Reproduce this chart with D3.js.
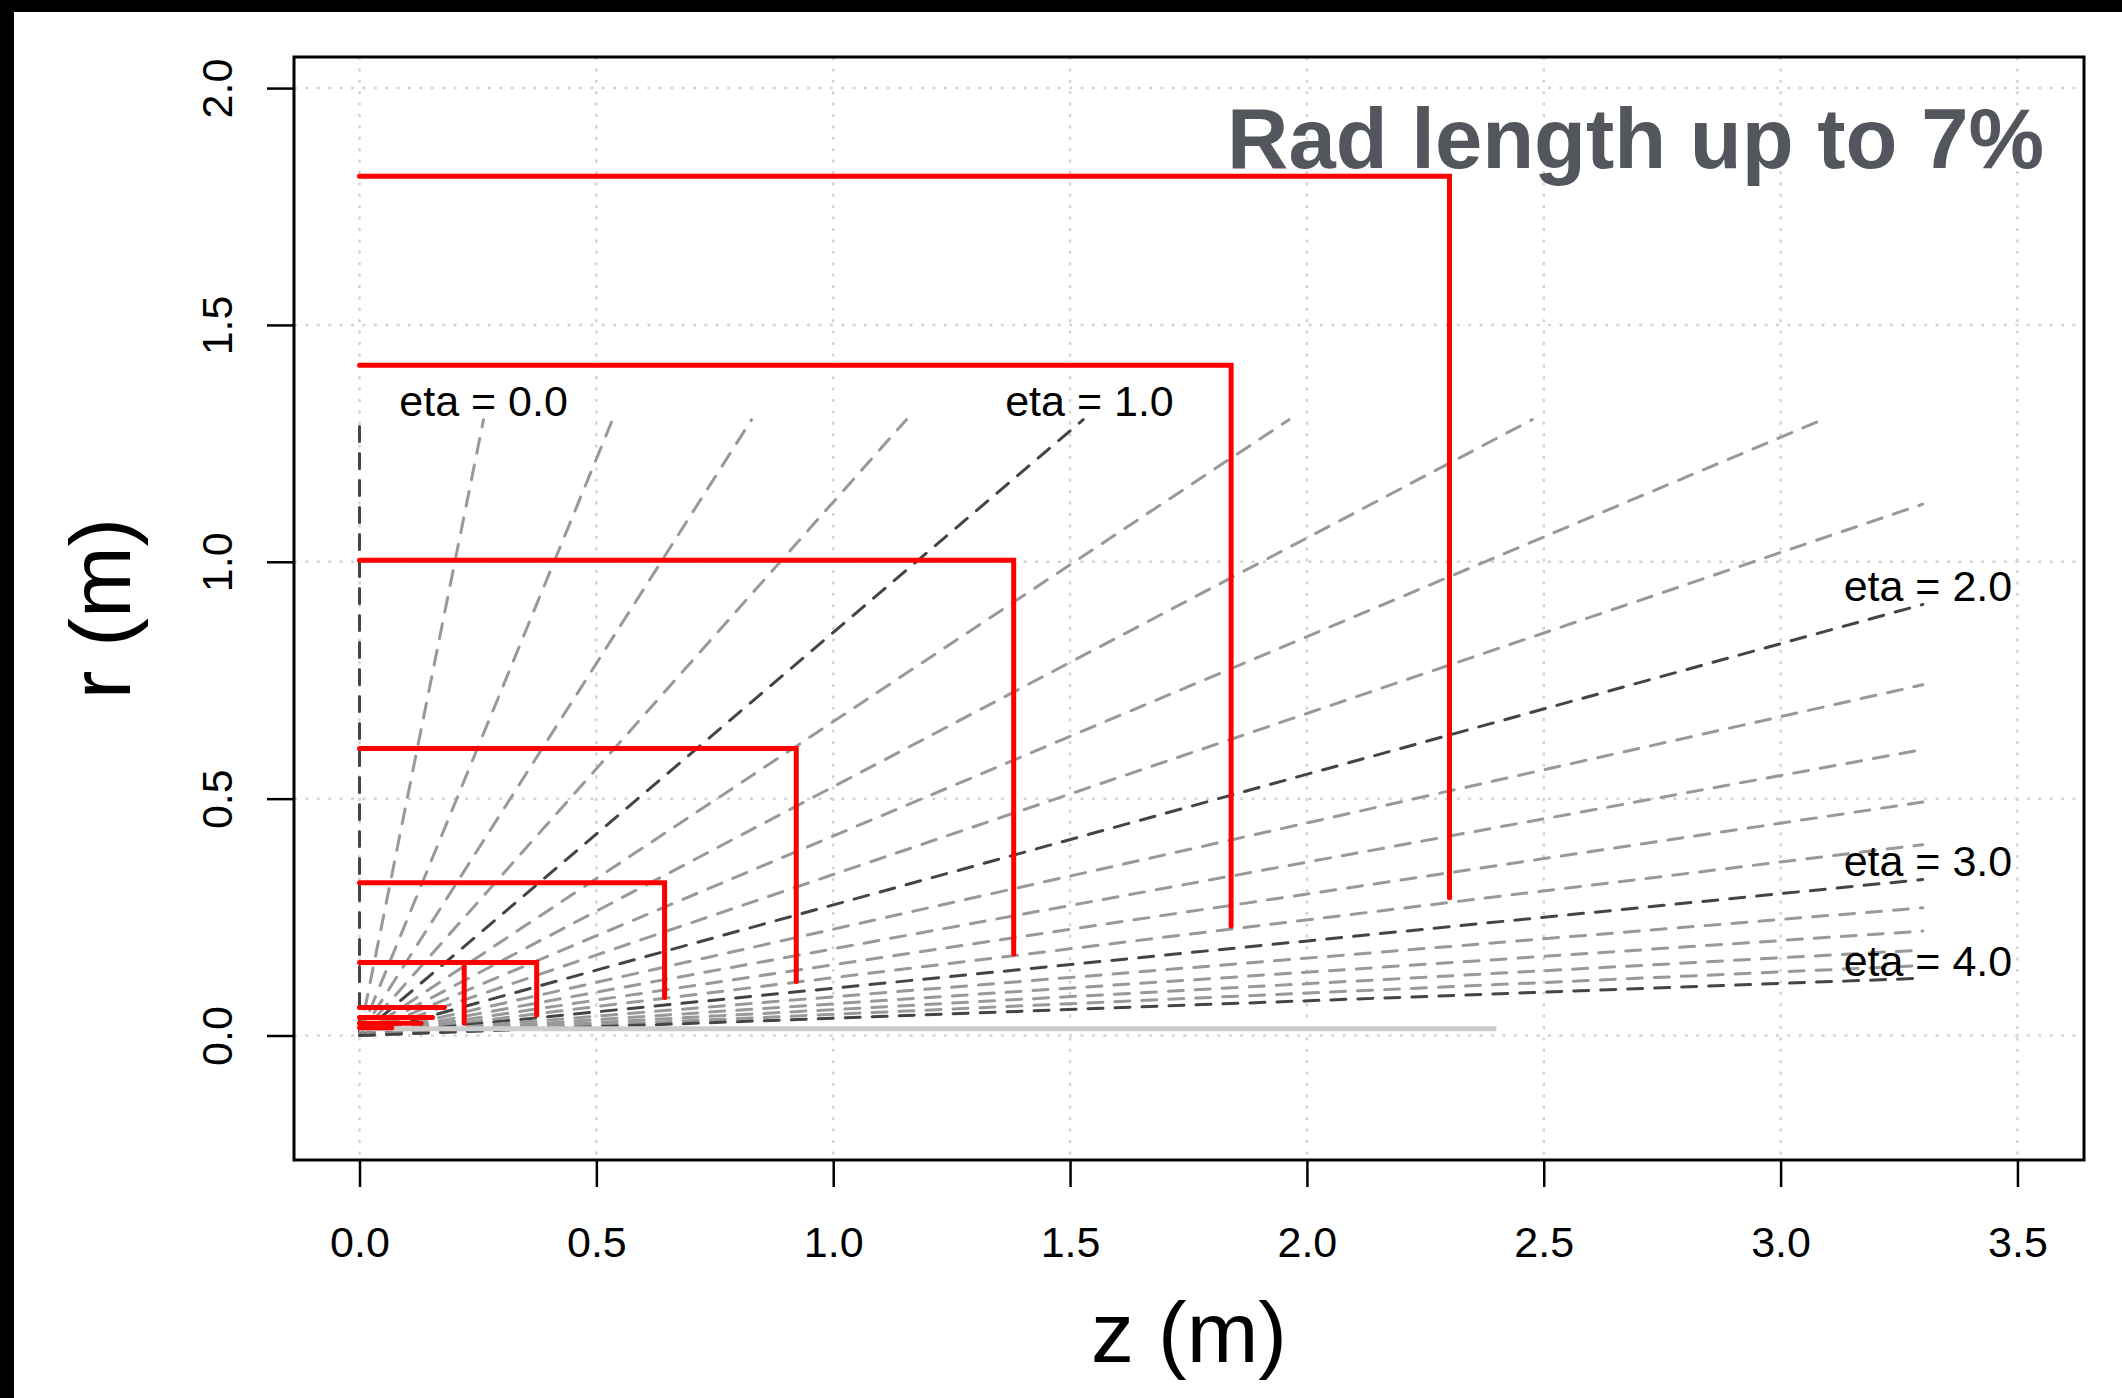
<html>
<head>
<title>Rad length up to 7%</title>
<style>
  body { margin: 0; background: #fff; }
  text { font-family: "Liberation Sans", Arial, Helvetica, sans-serif; }
</style>
</head>
<body>
<div id="viz"></div>
<script src="https://d3js.org/d3.v7.min.js"></script>
<script>

var width = 2122;
var height = 1398;

// tick values
var zTicks = [0.0, 0.5, 1.0, 1.5, 2.0, 2.5, 3.0, 3.5];
var rTicks = [0.0, 0.5, 1.0, 1.5, 2.0];

// pseudorapidity lines, drawn from the origin out to r = 1.3 or z = 3.3
var etaValues = [0.0, 0.2, 0.4, 0.6, 0.8, 1.0, 1.2, 1.4, 1.6, 1.8, 2.0,
                 2.2, 2.4, 2.6, 2.8, 3.0, 3.2, 3.4, 3.6, 3.8, 4.0];
var etaMajor = [0.0, 1.0, 2.0, 3.0, 4.0];
var etaRMax = 1.3;
var etaZMax = 3.3;

// eta labels: text, z, r (label centre)
var etaLabels = [
    ["eta = 0.0", 0.262, 1.340],
    ["eta = 1.0", 1.541, 1.340],
    ["eta = 2.0", 3.311, 0.949],
    ["eta = 3.0", 3.311, 0.369],
    ["eta = 4.0", 3.311, 0.157]
];

// barrel layers: radius, half length, inner radius of the end disk
var layerR    = [1.814, 1.415, 1.003, 0.606, 0.3226, 0.154];
var layerZ    = [2.301, 1.840, 1.381, 0.922, 0.644, 0.374];
var layerRMin = [0.291, 0.231, 0.172, 0.114, 0.080, 0.043];

// extra disk inside the innermost layer: z, r top, r bottom
var extraDisk = [0.221, 0.154, 0.026];

// short inner layers: radius, half length
var innerR = [0.059, 0.038, 0.026, 0.0165];
var innerZ = [0.179, 0.154, 0.130, 0.068];

// beam pipe: radius, length
var pipe = [0.0144, 2.40];

var svg = d3.select("#viz")
    .append("svg")
    .attr("width", width)
    .attr("height", height);

svg.append("rect").attr("width", width).attr("height", height).attr("fill", "#fff");

var pLeft = 294, pRight = 2084, pTop = 57, pBottom = 1160;

var x = d3.scaleLinear().domain([-0.1383, 3.6405]).range([pLeft, pRight]);
var y = d3.scaleLinear().domain([-0.2628, 2.0656]).range([pBottom, pTop]);

// grid
var grid = svg.append("g")
    .attr("stroke", "#d3d3d3")
    .attr("stroke-width", 2.5)
    .attr("stroke-dasharray", "3 8.4");

grid.selectAll(".gv")
    .data(zTicks)
    .enter()
    .append("line")
    .attr("x1", function (d) { return x(d); })
    .attr("x2", function (d) { return x(d); })
    .attr("y1", pTop)
    .attr("y2", pBottom);

grid.selectAll(".gh")
    .data(rTicks)
    .enter()
    .append("line")
    .attr("x1", pLeft)
    .attr("x2", pRight)
    .attr("y1", function (d) { return y(d); })
    .attr("y2", function (d) { return y(d); });

// eta lines
function etaEnd(eta) {
    if (eta === 0) return [0, etaRMax];
    var slope = 1 / Math.sinh(eta); // r / z
    var z = etaRMax / slope;
    if (z <= etaZMax) return [z, etaRMax];
    return [etaZMax, etaZMax * slope];
}

svg.append("g")
    .selectAll("line")
    .data(etaValues)
    .enter()
    .append("line")
    .attr("x1", x(0))
    .attr("y1", y(0))
    .attr("x2", function (d) { return x(etaEnd(d)[0]); })
    .attr("y2", function (d) { return y(etaEnd(d)[1]); })
    .attr("stroke", function (d) {
        return etaMajor.indexOf(d) >= 0 ? "#444444" : "#999999";
    })
    .attr("stroke-width", 3)
    .attr("stroke-dasharray", "15 12")
    .attr("stroke-linecap", "round");

svg.append("g")
    .selectAll("text")
    .data(etaLabels)
    .enter()
    .append("text")
    .attr("x", function (d) { return x(d[1]); })
    .attr("y", function (d) { return y(d[2]); })
    .attr("dy", "0.35em")
    .attr("text-anchor", "middle")
    .attr("font-size", 43)
    .attr("fill", "#000")
    .text(function (d) { return d[0]; });

// beam pipe
svg.append("line")
    .attr("x1", x(0))
    .attr("x2", x(pipe[1]))
    .attr("y1", y(pipe[0]))
    .attr("y2", y(pipe[0]))
    .attr("stroke", "#cccccc")
    .attr("stroke-width", 5);

// red layers
var red = svg.append("g")
    .attr("fill", "none")
    .attr("stroke", "#ff0000")
    .attr("stroke-width", 5)
    .attr("stroke-linecap", "round")
    .attr("stroke-linejoin", "miter");

red.selectAll(".layer")
    .data(layerR)
    .enter()
    .append("path")
    .attr("d", function (d, i) {
        return d3.line()([
            [x(0), y(d)],
            [x(layerZ[i]), y(d)],
            [x(layerZ[i]), y(layerRMin[i])]
        ]);
    });

red.append("line")
    .attr("x1", x(extraDisk[0]))
    .attr("x2", x(extraDisk[0]))
    .attr("y1", y(extraDisk[1]))
    .attr("y2", y(extraDisk[2]));

red.selectAll(".inner")
    .data(innerR)
    .enter()
    .append("line")
    .attr("x1", x(0))
    .attr("x2", function (d, i) { return x(innerZ[i]); })
    .attr("y1", function (d) { return y(d); })
    .attr("y2", function (d) { return y(d); });

// box
svg.append("rect")
    .attr("x", pLeft)
    .attr("y", pTop)
    .attr("width", pRight - pLeft)
    .attr("height", pBottom - pTop)
    .attr("fill", "none")
    .attr("stroke", "#000")
    .attr("stroke-width", 3);

// axes
var xAxis = svg.append("g")
    .attr("transform", "translate(0," + pBottom + ")")
    .call(d3.axisBottom(x).tickValues(zTicks).tickSize(27).tickFormat(d3.format(".1f")));

var yAxis = svg.append("g")
    .attr("transform", "translate(" + pLeft + ",0)")
    .call(d3.axisLeft(y).tickValues(rTicks).tickSize(27).tickFormat(d3.format(".1f")));

[xAxis, yAxis].forEach(function (a) {
    a.select(".domain").remove();
    a.selectAll(".tick line").attr("stroke", "#000").attr("stroke-width", 2.5);
    a.selectAll(".tick text")
        .attr("font-size", 43)
        .attr("font-family", "Liberation Sans, Arial, sans-serif")
        .attr("fill", "#000");
});

xAxis.selectAll(".tick text").attr("y", 97).attr("dy", 0);
yAxis.selectAll(".tick text")
    .attr("x", 0)
    .attr("dy", 0)
    .attr("text-anchor", "middle")
    .attr("transform", "translate(-62,0) rotate(-90)");

// titles
svg.append("text")
    .attr("x", (pLeft + pRight) / 2)
    .attr("y", 1362)
    .attr("text-anchor", "middle")
    .attr("font-size", 86)
    .text("z (m)");

svg.append("text")
    .attr("transform", "translate(130," + (pTop + pBottom) / 2 + ") rotate(-90)")
    .attr("text-anchor", "middle")
    .attr("font-size", 86)
    .text("r (m)");

svg.append("text")
    .attr("x", 2044)
    .attr("y", 168)
    .attr("text-anchor", "end")
    .attr("font-size", 85)
    .attr("font-weight", "bold")
    .attr("fill", "#53575d")
    .text("Rad length up to 7%");

// black frame on the left and top edges
svg.append("rect").attr("x", 0).attr("y", 0).attr("width", width).attr("height", 12).attr("fill", "#000");
svg.append("rect").attr("x", 0).attr("y", 0).attr("width", 14).attr("height", height).attr("fill", "#000");

</script>
</body>
</html>
